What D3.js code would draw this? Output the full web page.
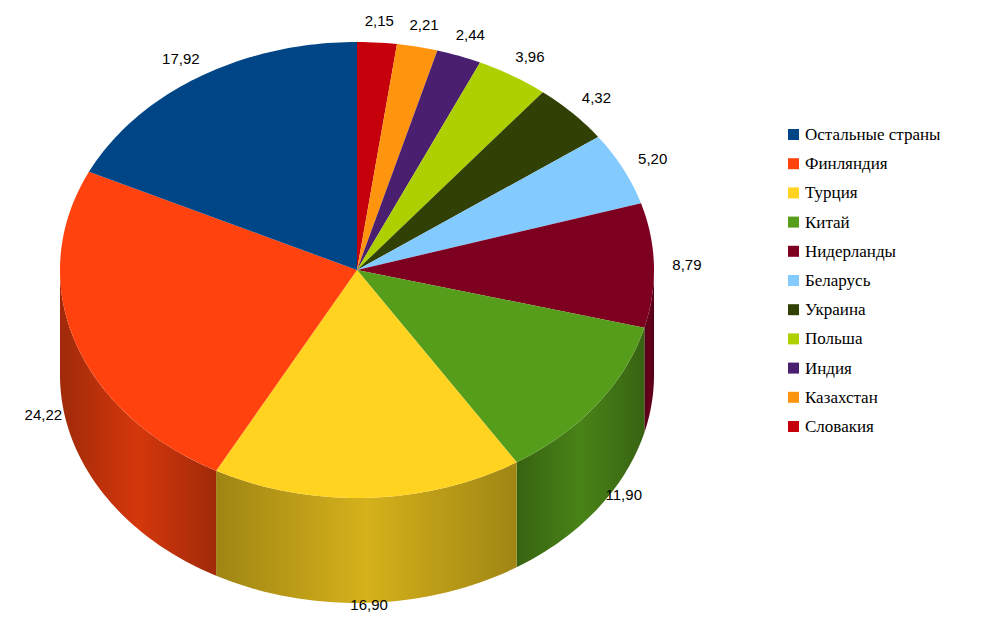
<!DOCTYPE html>
<html>
<head>
<meta charset="utf-8">
<script src="https://cdnjs.cloudflare.com/ajax/libs/d3/7.8.5/d3.min.js"></script>
<style>
  body { margin: 0; background: #fff; }
</style>
</head>
<body>
<svg id="chart" width="988" height="636"></svg>
<script>
// data, clockwise from 12 o'clock
var countries = ["Словакия", "Казахстан", "Индия", "Польша", "Украина", "Беларусь",
                 "Нидерланды", "Китай", "Турция", "Финляндия", "Остальные страны"];
var shares = [2.15, 2.21, 2.44, 3.96, 4.32, 5.20, 8.79, 11.90, 16.90, 24.22, 17.92];
var colors = ["#c5000b", "#ff950e", "#4b1f6f", "#aecf00", "#314004", "#83caff",
              "#7e0021", "#579d1c", "#ffd320", "#ff420e", "#004586"];
var legendOrder = ["Остальные страны", "Финляндия", "Турция", "Китай", "Нидерланды",
                   "Беларусь", "Украина", "Польша", "Индия", "Казахстан", "Словакия"];

var svg = d3.select("#chart");
var defs = svg.append("defs");
var cx = 357, cy = 270, rx = 297, ry = 228, depth = 105;

var pie = d3.pie().sort(null).value(function (d) { return d; });
var arcs = pie(shares);

function pt(a, h) {
  return [cx + rx * Math.sin(a), cy - ry * Math.cos(a) + (h || 0)];
}
function arcPts(a0, a1, h) {
  var n = Math.max(2, Math.ceil((a1 - a0) / 0.02)), p = [];
  for (var i = 0; i <= n; i++) p.push(pt(a0 + (a1 - a0) * i / n, h));
  return p;
}

// side walls (front half only)
arcs.forEach(function (d, i) {
  var a0 = Math.max(d.startAngle, Math.PI / 2), a1 = Math.min(d.endAngle, 3 * Math.PI / 2);
  if (a1 <= a0) return;
  var c = d3.color(colors[i]);
  var g = defs.append("linearGradient").attr("id", "side" + i)
    .attr("x1", 0).attr("y1", 0).attr("x2", 1).attr("y2", 0);
  g.append("stop").attr("offset", "0%").attr("stop-color", c.darker(1.3));
  g.append("stop").attr("offset", "50%").attr("stop-color", c.darker(0.5));
  g.append("stop").attr("offset", "100%").attr("stop-color", c.darker(1.3));
  var top = arcPts(a0, a1, 0), bot = arcPts(a0, a1, depth).reverse();
  svg.append("path")
    .attr("d", d3.line()(top.concat(bot)) + "Z")
    .attr("fill", "url(#side" + i + ")");
});

// top faces
arcs.forEach(function (d, i) {
  var p = [[cx, cy]].concat(arcPts(d.startAngle, d.endAngle, 0));
  svg.append("path").attr("d", d3.line()(p) + "Z").attr("fill", colors[i]);
});

// value labels
arcs.forEach(function (d, i) {
  var m = (d.startAngle + d.endAngle) / 2;
  var s = Math.sin(m), c = Math.cos(m);
  var x = cx + 330 * s;
  var y = cy - (c > 0 ? 250 : 230) * c + (c < 0 ? depth * Math.pow(-c, 0.3) : 0);
  svg.append("text")
    .attr("x", x).attr("y", y + 5)
    .attr("text-anchor", "middle")
    .attr("font-family", "Liberation Sans, Arial, sans-serif")
    .attr("font-size", 15)
    .text(shares[i].toFixed(2).replace(".", ","));
});

// legend
var lg = svg.append("g");
legendOrder.forEach(function (name, j) {
  var i = countries.indexOf(name);
  var y = 135 + j * 29.2;
  lg.append("rect").attr("x", 788).attr("y", y - 6).attr("width", 11).attr("height", 11)
    .attr("fill", colors[i]);
  lg.append("text").attr("x", 805).attr("y", y + 5)
    .attr("font-family", "Liberation Serif, Times New Roman, serif")
    .attr("font-size", 17)
    .text(name);
});
</script>
</body>
</html>
